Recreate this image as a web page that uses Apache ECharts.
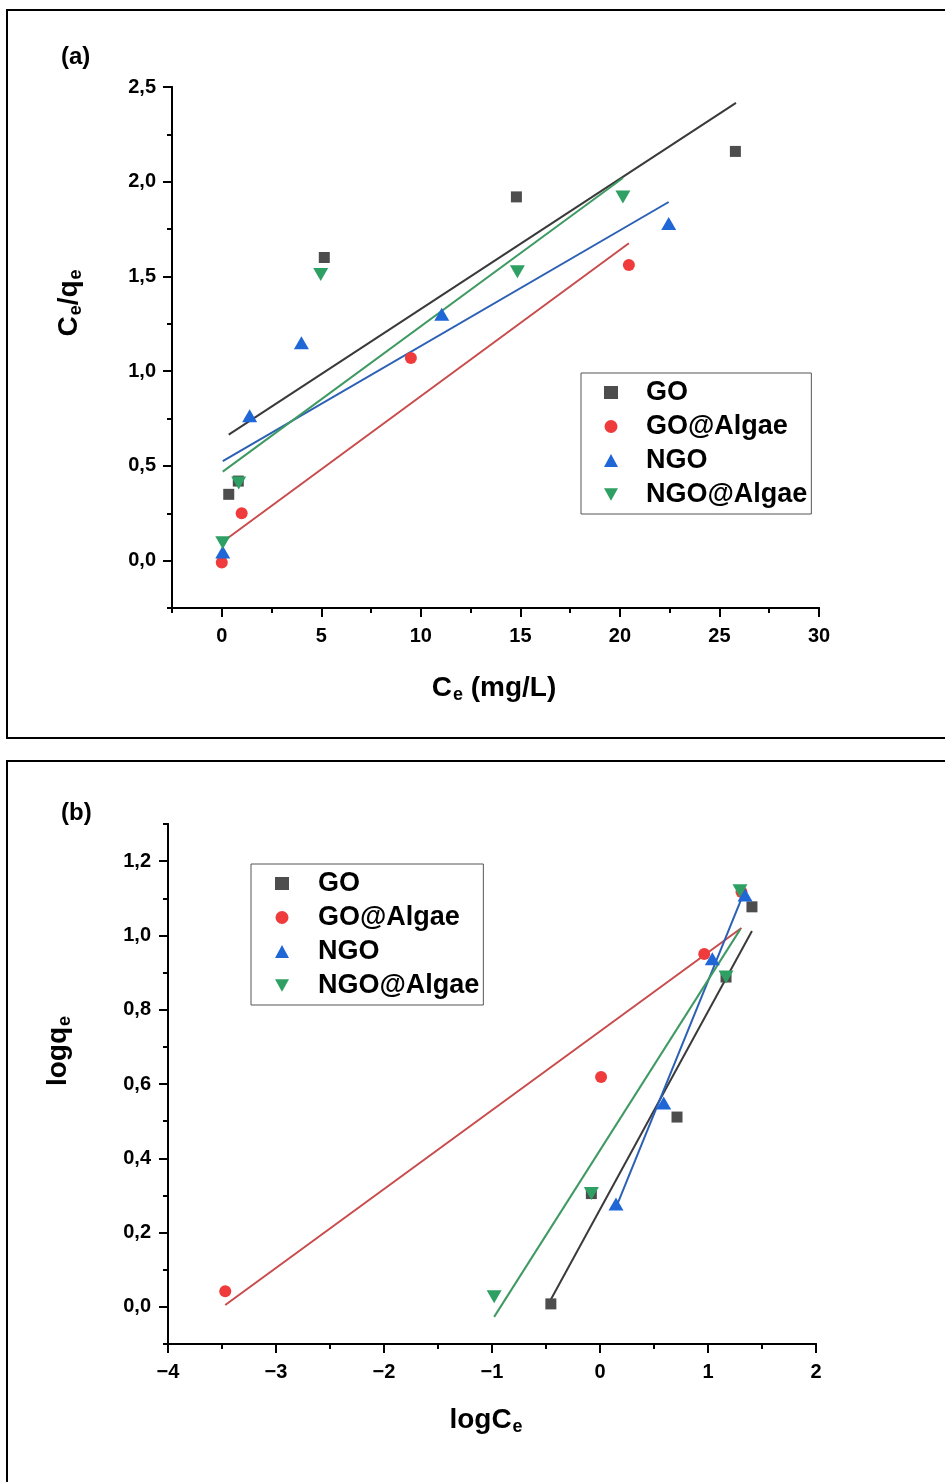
<!DOCTYPE html>
<html><head><meta charset="utf-8">
<script src="https://cdn.jsdelivr.net/npm/echarts@6/dist/echarts.min.js"></script>
<style>html,body{margin:0;padding:0;background:#fff}#c{width:945px;height:1482px}</style>
</head><body><div id="c"></div>
<script>
// ---------- DATA ----------
const seriesNames = ['GO', 'GO@Algae', 'NGO', 'NGO@Algae'];

// Panel (a): Ce (mg/L) vs Ce/qe
const aGO_x   = [0.35, 0.83, 5.15, 14.8, 25.8];
const aGO_y   = [0.35, 0.42, 1.60, 1.92, 2.16];
const aGOA_x  = [0.0, 1.0, 9.5, 20.45];
const aGOA_y  = [-0.01, 0.25, 1.07, 1.56];
const aNGO_x  = [0.05, 1.4, 4.0, 11.05, 22.45];
const aNGO_y  = [0.045, 0.765, 1.15, 1.30, 1.78];
const aNGOA_x = [0.05, 0.85, 4.97, 14.85, 20.15];
const aNGOA_y = [0.095, 0.41, 1.51, 1.525, 1.92];
// fitted lines (a): [x0, x1], [y0, y1]
const aFitGO_x   = [0.35, 25.83], aFitGO_y   = [0.665, 2.416];
const aFitGOA_x  = [0.05, 20.45], aFitGOA_y  = [0.10, 1.675];
const aFitNGO_x  = [0.05, 22.45], aFitNGO_y  = [0.525, 1.893];
const aFitNGOA_x = [0.05, 20.15], aFitNGOA_y = [0.47, 2.02];

// Panel (b): logCe vs logqe
const bGO_x   = [-0.455, -0.08, 0.713, 1.167, 1.407];
const bGO_y   = [0.008, 0.305, 0.511, 0.888, 1.077];
const bGOA_x  = [-3.47, 0.01, 0.965, 1.31];
const bGOA_y  = [0.042, 0.619, 0.950, 1.117];
const bNGO_x  = [0.148, 0.59, 1.04, 1.343];
const bNGO_y  = [0.277, 0.549, 0.937, 1.109];
const bNGOA_x = [-0.98, -0.08, 1.167, 1.296];
const bNGOA_y = [0.027, 0.305, 0.888, 1.12];
const bFitGO_x   = [-0.455, 1.407], bFitGO_y   = [0.02, 1.012];
const bFitGOA_x  = [-3.47, 1.31],   bFitGOA_y  = [0.005, 1.02];
const bFitNGO_x  = [0.148, 1.345],  bFitNGO_y  = [0.267, 1.124];
const bFitNGOA_x = [-0.98, 1.30],   bFitNGOA_y = [-0.027, 1.017];

// tick labels
const aXTicks = [0, 5, 10, 15, 20, 25, 30];
const aYTicks = [0, 0.5, 1.0, 1.5, 2.0, 2.5];
const bXTicks = [-4, -3, -2, -1, 0, 1, 2];
const bYTicks = [0, 0.2, 0.4, 0.6, 0.8, 1.0, 1.2];

// ---------- STYLE ----------
const markerColors = ['#4D4D4D', '#EF3B3B', '#1F66D6', '#2FA063'];
const lineColors   = ['#3A3A3A', '#C94B4B', '#2C60B5', '#3E9A62'];
const symbols      = ['rect', 'circle', 'triangle', 'triangle'];
const symRot       = [0, 0, 0, 180];
const symSize      = [11, 12, [15, 13], [15, 13]];
const legendIcons  = ['rect', 'circle', 'triangle', 'path://M0,0L10,0L5,9Z'];
const FONT = '"Liberation Sans", Arial, sans-serif';

function zip(xs, ys) { return xs.map((x, i) => [x, ys[i]]); }
function fmt(v, dec) { return v.toFixed(dec).replace('.', ',').replace('-', '\u2212'); }

const aPts = [[aGO_x, aGO_y], [aGOA_x, aGOA_y], [aNGO_x, aNGO_y], [aNGOA_x, aNGOA_y]];
const aFit = [[aFitGO_x, aFitGO_y], [aFitGOA_x, aFitGOA_y], [aFitNGO_x, aFitNGO_y], [aFitNGOA_x, aFitNGOA_y]];
const bPts = [[bGO_x, bGO_y], [bGOA_x, bGOA_y], [bNGO_x, bNGO_y], [bNGOA_x, bNGOA_y]];
const bFit = [[bFitGO_x, bFitGO_y], [bFitGOA_x, bFitGOA_y], [bFitNGO_x, bFitNGO_y], [bFitNGOA_x, bFitNGOA_y]];

const axisLineStyle = { onZero: false, lineStyle: { color: '#000', width: 2 } };
const labelStyle = { color: '#000', fontSize: 20, fontWeight: 'bold', fontFamily: FONT };

function minorAxis(grid, pos, min, max, interval) {
  return {
    type: 'value', gridIndex: grid, position: pos, min: min, max: max, interval: interval,
    axisLine: axisLineStyle,
    axisTick: { show: true, length: 5, lineStyle: { color: '#000', width: 2 } },
    axisLabel: { show: false }, splitLine: { show: false }
  };
}
function majorAxis(grid, pos, min, max, ticks, dec, margin) {
  return {
    type: 'value', gridIndex: grid, position: pos, offset: 0, min: min, max: max,
    axisLine: axisLineStyle,
    axisTick: { show: true, length: 9, customValues: ticks, lineStyle: { color: '#000', width: 2 } },
    axisLabel: Object.assign({ show: true, customValues: ticks, margin: margin,
      formatter: v => fmt(v, dec) }, labelStyle),
    splitLine: { show: false }
  };
}

const series = [];
function addPanel(pts, fit, axIdx) {
  fit.forEach((f, i) => {
    series.push({
      type: 'line', name: seriesNames[i] + ' fit', xAxisIndex: axIdx, yAxisIndex: axIdx,
      data: zip(f[0], f[1]), symbol: 'none', silent: true, z: 2,
      lineStyle: { color: lineColors[i], width: 2 }
    });
  });
  pts.forEach((p, i) => {
    series.push({
      type: 'scatter', name: seriesNames[i], xAxisIndex: axIdx, yAxisIndex: axIdx,
      data: zip(p[0], p[1]), symbol: symbols[i], symbolRotate: symRot[i],
      symbolSize: symSize[i], z: 3,
      itemStyle: { color: markerColors[i], opacity: 1 }
    });
  });
}
addPanel(aPts, aFit, 0);
addPanel(bPts, bFit, 2);

function legend(left, top, padL, textPad, padR) {
  return {
    data: seriesNames.map((n, i) => ({ name: n, icon: legendIcons[i] })),
    orient: 'vertical', left: left, top: top,
    itemWidth: 14, itemHeight: 13, itemGap: 7, padding: [6, padR, 6, padL],
    borderColor: '#555', borderWidth: 1, backgroundColor: '#fff',
    textStyle: { color: '#000', fontSize: 27, fontWeight: 'bold', fontFamily: FONT,
                 lineHeight: 26, padding: [0, 0, 0, textPad] },
    selectedMode: false
  };
}

const B = { fontSize: 28, fontWeight: 'bold', fontFamily: FONT, fill: '#000', lineHeight: 32 };
const S = { fontSize: 18, fontWeight: 'bold', fontFamily: FONT, fill: '#000', lineHeight: 19, padding: [15, 0, 0, 1] };

const option = {
  animation: false,
  backgroundColor: '#fff',
  grid: [
    { left: 172, top: 87, width: 647, height: 521 },
    { left: 168, top: 824, width: 648, height: 520 }
  ],
  xAxis: [
    minorAxis(0, 'bottom', -2.5, 30, 2.5),
    majorAxis(0, 'bottom', -2.5, 30, aXTicks, 0, 18),
    minorAxis(1, 'bottom', -4, 2, 0.5),
    majorAxis(1, 'bottom', -4, 2, bXTicks, 0, 18)
  ],
  yAxis: [
    minorAxis(0, 'left', -0.25, 2.5, 0.25),
    majorAxis(0, 'left', -0.25, 2.5, aYTicks, 1, 16),
    minorAxis(1, 'left', -0.1, 1.3, 0.1),
    majorAxis(1, 'left', -0.1, 1.3, bYTicks, 1, 17)
  ],
  legend: [legend(581, 373, 23, 23, 4), legend(251, 864, 24, 24, 4)],
  series: series,
  graphic: [
    { type: 'rect', silent: true, z: 0, shape: { x: 7, y: 10, width: 1000, height: 728 },
      style: { fill: 'none', stroke: '#000', lineWidth: 2 } },
    { type: 'rect', silent: true, z: 0, shape: { x: 7, y: 761, width: 1000, height: 800 },
      style: { fill: 'none', stroke: '#000', lineWidth: 2 } },
    { type: 'text', x: 61, y: 57, style: { text: '(a)', font: 'bold 24px ' + FONT, fill: '#000', verticalAlign: 'middle' } },
    { type: 'text', x: 61, y: 813, style: { text: '(b)', font: 'bold 24px ' + FONT, fill: '#000', verticalAlign: 'middle' } },
    { type: 'text', x: 494, y: 688, style: { text: '{b|C}{s|e}{b| (mg/L)}', rich: { b: B, s: S }, align: 'center', verticalAlign: 'middle' } },
    { type: 'text', x: 69, y: 303, rotation: Math.PI / 2, style: { text: '{b|C}{s|e}{b|/q}{s|e}', rich: { b: B, s: S }, align: 'center', verticalAlign: 'middle' } },
    { type: 'text', x: 58, y: 1051, rotation: Math.PI / 2, style: { text: '{b|logq}{s|e}', rich: { b: B, s: S }, align: 'center', verticalAlign: 'middle' } },
    { type: 'text', x: 486, y: 1420, style: { text: '{b|logC}{s|e}', rich: { b: B, s: S }, align: 'center', verticalAlign: 'middle' } }
  ]
};

const chart = echarts.init(document.getElementById('c'), null, { renderer: 'canvas' });
chart.setOption(option);
</script>
</body></html>
